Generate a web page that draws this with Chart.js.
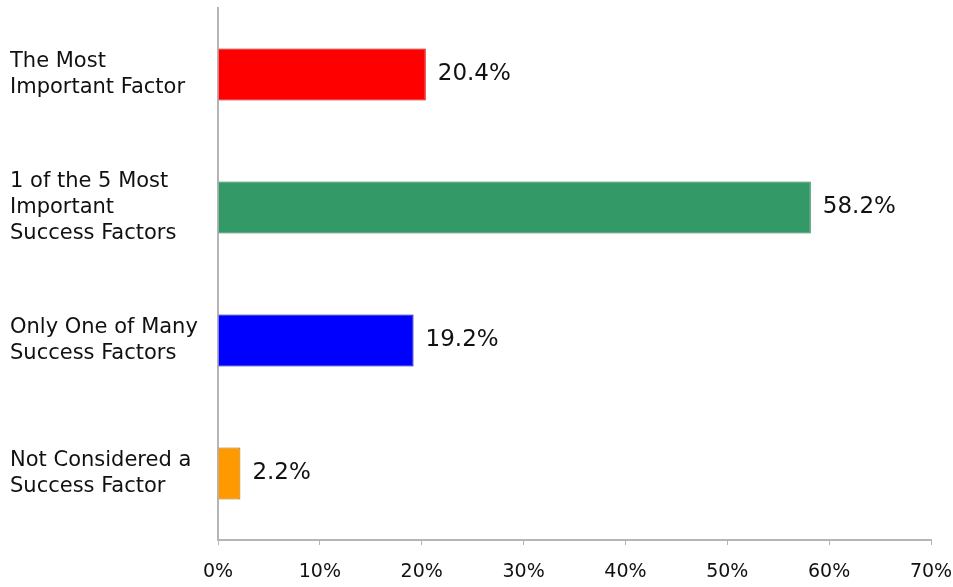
<!DOCTYPE html>
<html>
<head>
<meta charset="utf-8">
<script src="https://cdn.jsdelivr.net/npm/chart.js@4"></script>
<style>
  html, body { margin: 0; padding: 0; background: #fff; }
  #wrap { width: 953px; height: 587px; }
</style>
</head>
<body>
<div id="wrap"><canvas id="factorChart"></canvas></div>
<script>
const categories = [
  ['The Most', 'Important Factor'],
  ['1 of the 5 Most', 'Important', 'Success Factors'],
  ['Only One of Many', 'Success Factors'],
  ['Not Considered a', 'Success Factor']
];
const shares = [20.4, 58.2, 19.2, 2.2];
const barColors = ['#ff0000', '#339966', '#0000ff', '#ff9900'];
const barEdges = ['#cc0000', '#2a7a50', '#0000b0', '#a86a10'];
const xTicks = [0, 10, 20, 30, 40, 50, 60, 70];

const FONT = '"DejaVu Sans", Arial, sans-serif';

// value text to the right of each bar
const valueLabels = {
  id: 'valueLabels',
  afterDatasetsDraw(chart) {
    const ctx = chart.ctx;
    const meta = chart.getDatasetMeta(0);
    ctx.save();
    ctx.font = '23px ' + FONT;
    ctx.fillStyle = '#111';
    ctx.textBaseline = 'middle';
    meta.data.forEach((bar, i) => {
      ctx.fillText(shares[i].toFixed(1) + '%', bar.x + 12, bar.y);
    });
    ctx.restore();
  }
};

new Chart(document.getElementById('factorChart'), {
  type: 'bar',
  data: {
    labels: categories,
    datasets: [{
      data: shares,
      backgroundColor: barColors,
      borderColor: barEdges,
      borderWidth: 1,
      barPercentage: 0.39,
      categoryPercentage: 1
    }]
  },
  options: {
    indexAxis: 'y',
    responsive: true,
    maintainAspectRatio: false,
    animation: false,
    layout: { padding: { left: 10, top: 8, right: 22, bottom: 0 } },
    plugins: {
      legend: { display: false },
      tooltip: { enabled: false }
    },
    scales: {
      x: {
        min: 0,
        max: 70,
        afterBuildTicks(scale) {
          scale.ticks = xTicks.map(v => ({ value: v }));
        },
        afterFit(scale) {
          scale.height = 47;
          scale.paddingLeft = 0;
          scale.paddingRight = 0;
        },
        grid: {
          drawOnChartArea: false,
          drawTicks: true,
          tickLength: 5,
          color: '#b5b5b5'
        },
        border: { display: true, color: '#b5b5b5', width: 2 },
        ticks: {
          callback: v => v + '%',
          color: '#111',
          padding: 16,
          maxRotation: 0,
          font: { family: FONT, size: 19 }
        }
      },
      y: {
        afterFit(scale) {
          scale.width = 208;
          scale.paddingTop = 0;
          scale.paddingBottom = 0;
        },
        grid: { display: false },
        border: { display: true, color: '#b5b5b5', width: 2 },
        ticks: {
          crossAlign: 'far',
          color: '#111',
          padding: 6,
          font: { family: FONT, size: 21, lineHeight: 1.25 }
        }
      }
    }
  },
  plugins: [valueLabels]
});
</script>
</body>
</html>
